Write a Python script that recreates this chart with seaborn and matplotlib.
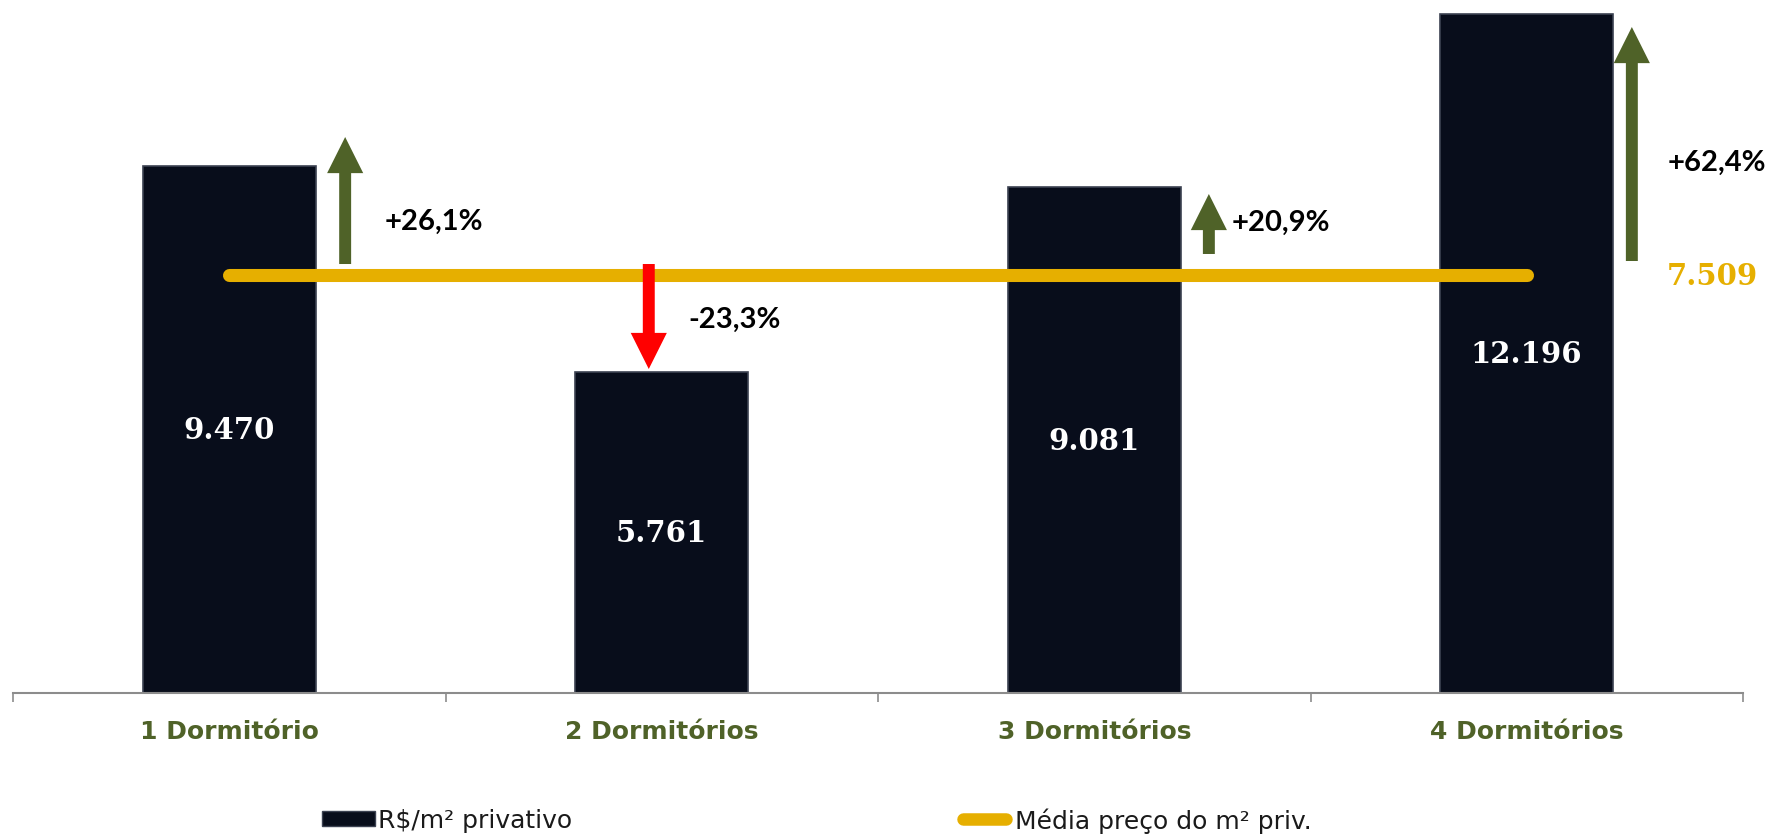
import matplotlib
matplotlib.use("Agg")
import matplotlib.pyplot as plt
import seaborn as sns
from matplotlib.patches import Patch
from matplotlib.lines import Line2D

# dados do grafico
categorias = ["1 Dormitório", "2 Dormitórios", "3 Dormitórios", "4 Dormitórios"]
preco_m2 = [9470, 5761, 9081, 12196]
rotulos_preco = ["9.470", "5.761", "9.081", "12.196"]
media_m2 = 7509
rotulo_media = "7.509"
variacoes = ["+26,1%", "-23,3%", "+20,9%", "+62,4%"]
nome_barra = "R$/m² privativo"
nome_media = "Média preço do m² priv."

cor_barra = "#080d1b"
cor_media = "#e6af00"
cor_alta = "#4f6228"
cor_baixa = "#ff0000"
cor_rotulo = "#4f6228"

sns.set_theme(style="white")
plt.rcParams["font.family"] = ["DejaVu Sans"]

fig = plt.figure(figsize=(17.7, 8.37), dpi=100)
ax = fig.add_axes([13 / 1770, 143 / 837, 1730 / 1770, 694 / 837])

sns.barplot(x=categorias, y=preco_m2, color=cor_barra, width=0.4, saturation=1,
            edgecolor="#3c4252", linewidth=1.2, ax=ax, zorder=2)
sns.lineplot(x=categorias, y=[media_m2] * len(categorias), color=cor_media, linewidth=9.4,
             solid_capstyle="round", ax=ax, zorder=3, legend=False)

# valores dentro das barras
for i, v in enumerate(preco_m2):
    ax.text(i, v / 2, rotulos_preco[i], ha="center", va="center", color="white",
            fontsize=21, fontweight="bold", family="DejaVu Serif", zorder=5)

# setas de variacao em relacao a media (x, base, ponta)
setas = [(0.268, 7702, 9982), (0.970, 7702, 5817), (2.265, 7882, 8959), (3.243, 7756, 11957)]
pos_txt = [(0.474, 8474), (1.169, 6714), (2.431, 8456), (3.439, 9533)]
for i, (x, y0, y1) in enumerate(setas):
    cor = cor_alta if preco_m2[i] > media_m2 else cor_baixa
    ax.annotate("", xy=(x, y1), xytext=(x, y0),
                arrowprops=dict(arrowstyle="simple,head_length=2.6,head_width=2.6,tail_width=0.86",
                                mutation_scale=10, color=cor, lw=0, shrinkA=0, shrinkB=0),
                zorder=4)
    ax.text(pos_txt[i][0], pos_txt[i][1], variacoes[i], ha="center", va="center",
            fontsize=21, fontweight="bold", color="black", family=["Lato", "DejaVu Sans"])

ax.text(3.43, 7487, rotulo_media, ha="center", va="center", color=cor_media,
        fontsize=21, fontweight="bold", family="DejaVu Serif")

ax.set_xlim(-0.5, 3.5)
ax.set_ylim(0, 12460)
ax.set_yticks([])
ax.set_ylabel("")
ax.set_xlabel("")
sns.despine(ax=ax, left=True)
ax.spines["bottom"].set_color("#8c8c8c")
ax.spines["bottom"].set_linewidth(1.5)

ax.set_xticks([-0.5, 0.5, 1.5, 2.5, 3.5], minor=True)
ax.tick_params(axis="x", which="major", length=0, pad=18.5, labelsize=18, labelcolor=cor_rotulo)
ax.tick_params(axis="x", which="minor", bottom=True, length=6.5, width=1.2, color="#8c8c8c")
for t in ax.get_xticklabels():
    t.set_fontweight("bold")

# legenda
h_barra = Patch(facecolor=cor_barra, edgecolor="#3c4252")
h_media = Line2D([], [], color=cor_media, linewidth=9, solid_capstyle="round")
fig.legend(handles=[h_barra], labels=[nome_barra], loc="center left",
           bbox_to_anchor=(322 / 1770, 1 - 821 / 837), frameon=False, fontsize=18,
           handlelength=2.1, handleheight=0.56, handletextpad=0.12, borderpad=0,
           borderaxespad=0, labelcolor="#1a1a1a")
fig.legend(handles=[h_media], labels=[nome_media], loc="center left",
           bbox_to_anchor=(963 / 1770, 1 - 821 / 837), frameon=False, fontsize=18,
           handlelength=1.72, handletextpad=0.36, borderpad=0,
           borderaxespad=0, labelcolor="#1a1a1a")

fig.savefig("out.png", dpi=100)
